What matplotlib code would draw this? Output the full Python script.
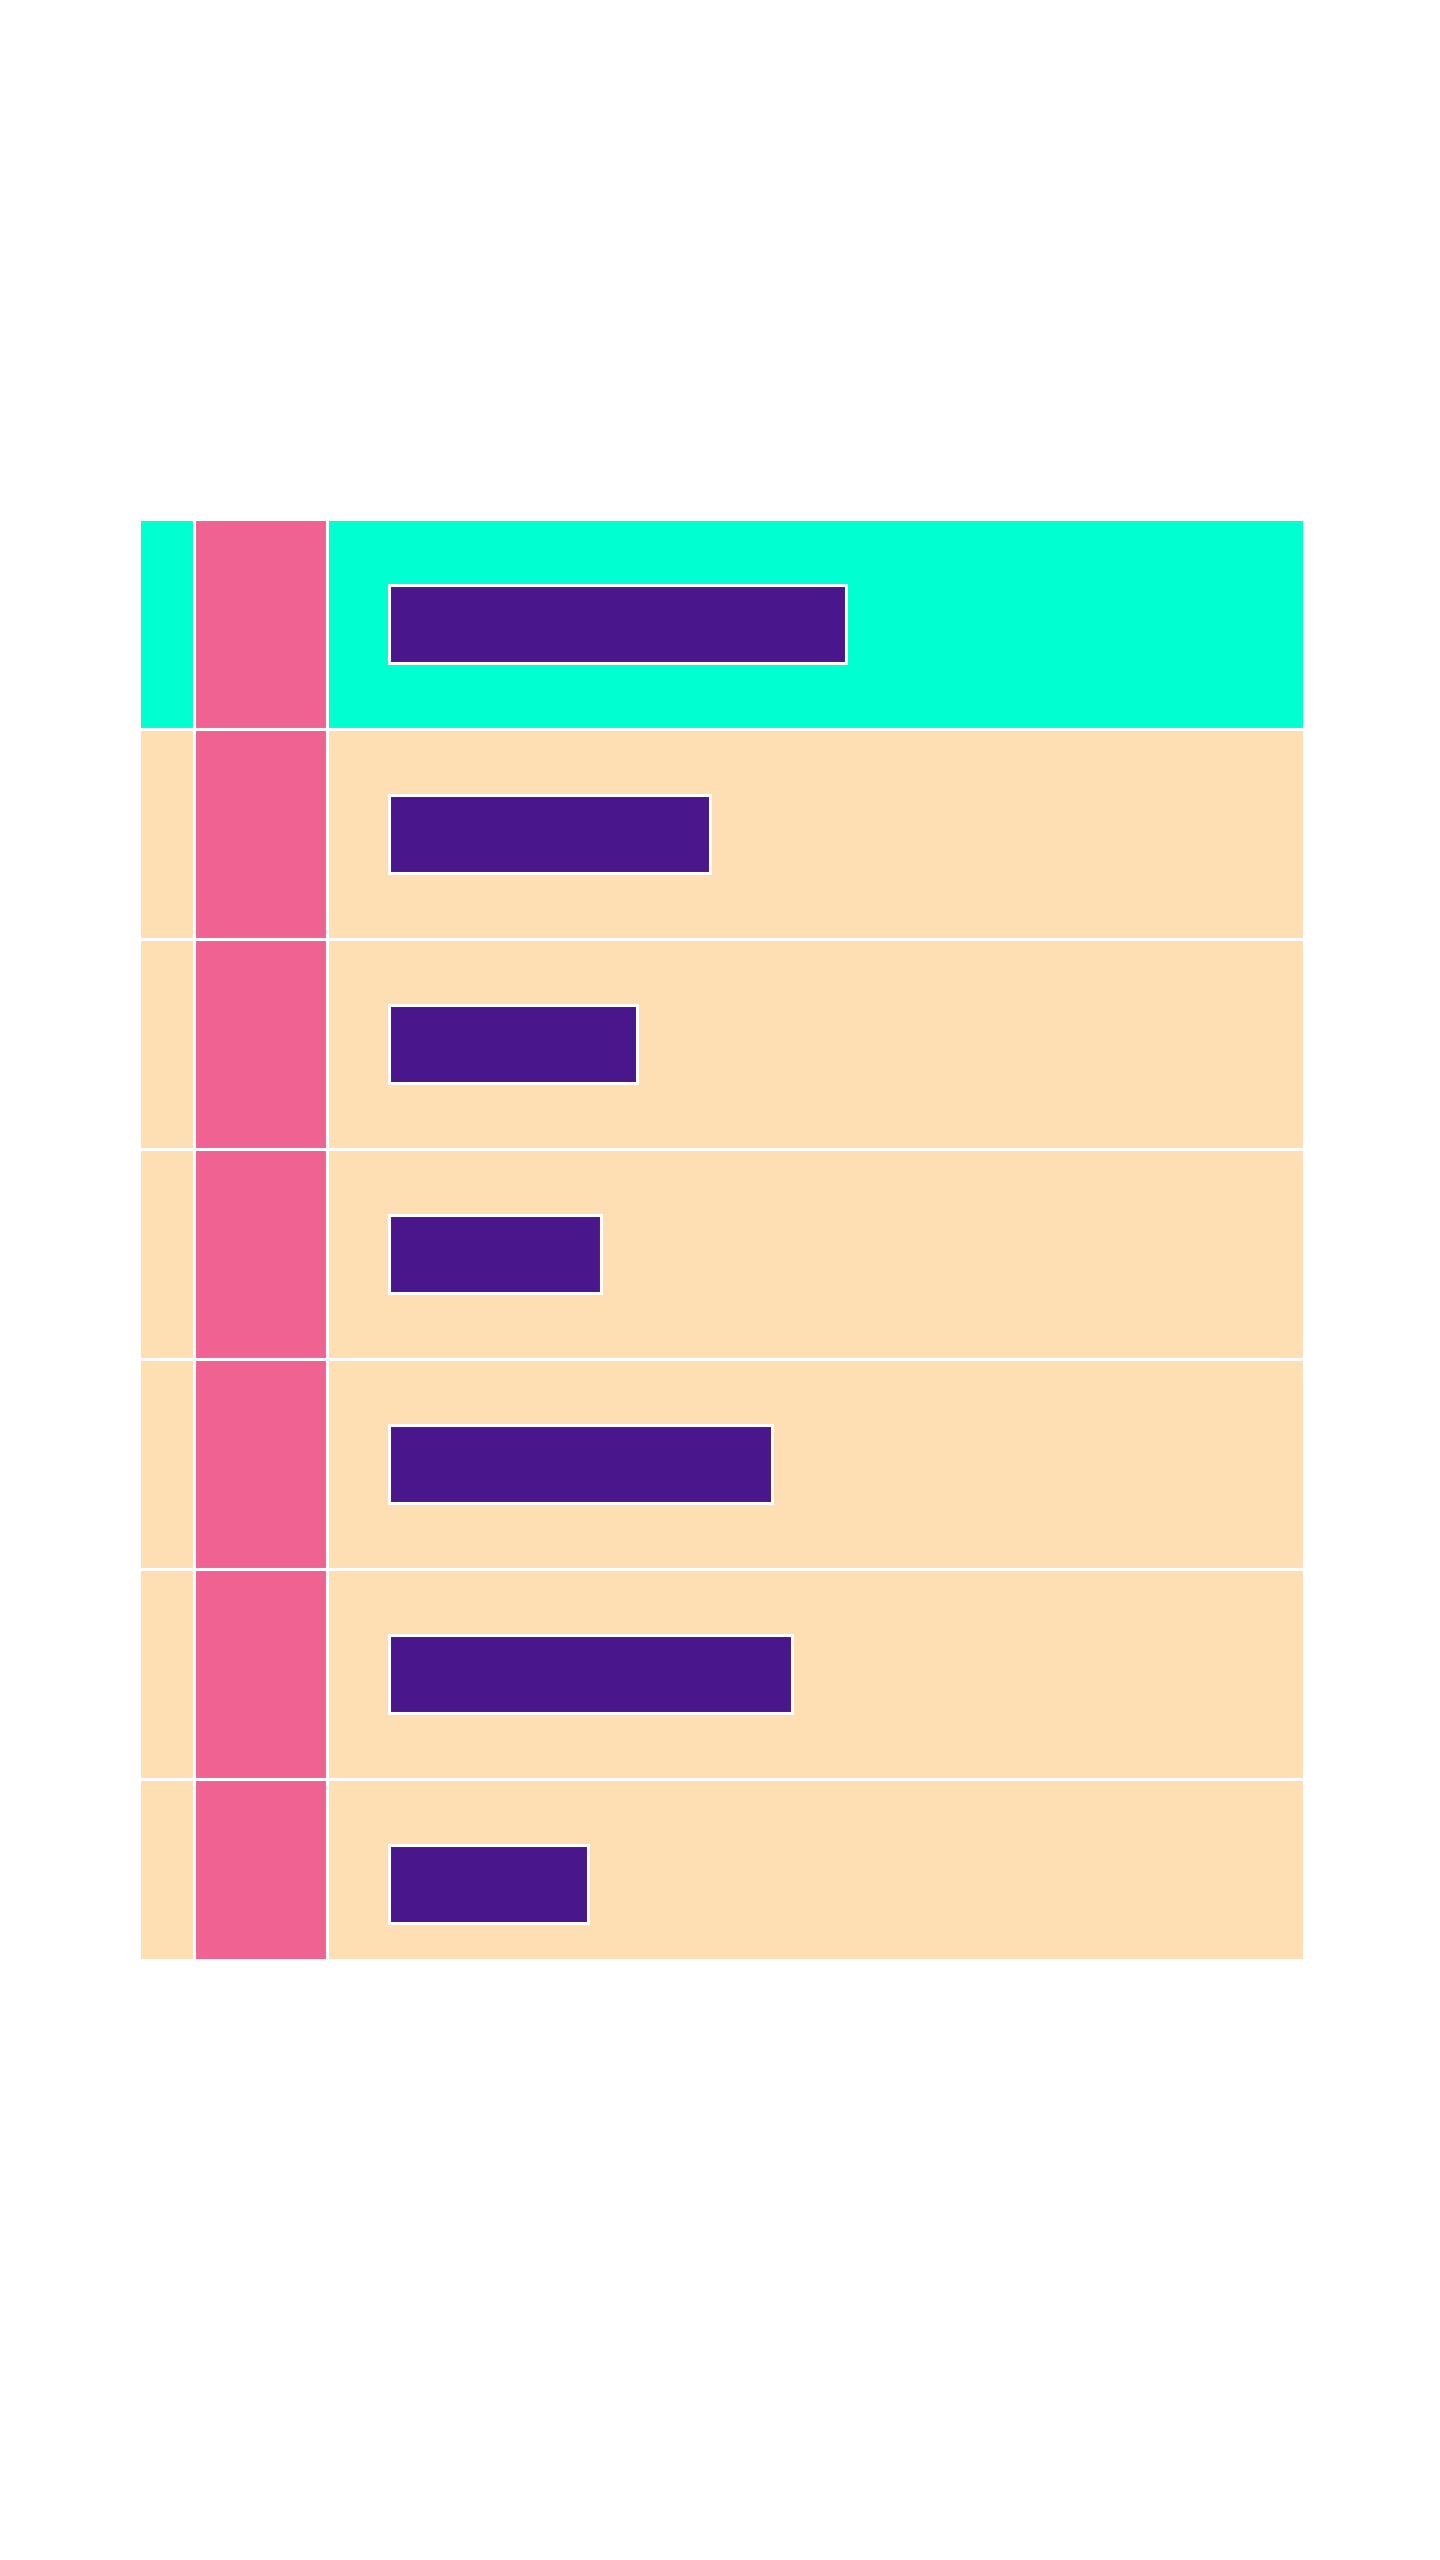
import matplotlib.pyplot as plt
import numpy as np

# rows of the table (top to bottom) and the bar value in each row
rows = ['r1', 'r2', 'r3', 'r4', 'r5', 'r6', 'r7']
values = [45.7, 32.1, 24.8, 21.2, 38.3, 40.3, 19.9]
highlight = [True, False, False, False, False, False, False]

teal = '#00FFD1'
peach = '#FEDFB3'
pink = '#F06292'
purple = '#4A168C'

W, H = 1440, 2560
fig = plt.figure(figsize=(W / 100, H / 100), dpi=100)
fig.patch.set_facecolor('white')

left, right, top, bottom = 139, 1304, 519, 1959
row_px = 210
n = len(rows)
y = np.arange(n)
ylim = (-0.5 + (bottom - top) / row_px, -0.5)

# background cells
bg = fig.add_axes([left / W, 1 - bottom / H, (right - left) / W, (bottom - top) / H])
col_edges = [0, 55, 187.5, right - left]
row_cols = [teal if h else peach for h in highlight]
bg.barh(y, col_edges[1] - col_edges[0], left=col_edges[0], height=1.0,
        color=row_cols, edgecolor='white', linewidth=2.2)
bg.barh(y, col_edges[2] - col_edges[1], left=col_edges[1], height=1.0,
        color=pink, edgecolor='white', linewidth=2.2)
bg.barh(y, col_edges[3] - col_edges[2], left=col_edges[2], height=1.0,
        color=row_cols, edgecolor='white', linewidth=2.2)
bg.set_xlim(0, right - left)
bg.set_ylim(*ylim)
bg.axis('off')

# value bars in the third column
c3 = left + col_edges[2]
ax = fig.add_axes([c3 / W, 1 - bottom / H, (right - c3) / W, (bottom - top) / H])
ax.patch.set_alpha(0)
ax.barh(y, values, height=0.37, color=purple, edgecolor='white', linewidth=2.2)
ax.set_xlim(-6.2, 91.4)
ax.set_ylim(*ylim)
ax.axis('off')

plt.savefig('out.png', dpi=100, facecolor='white')
